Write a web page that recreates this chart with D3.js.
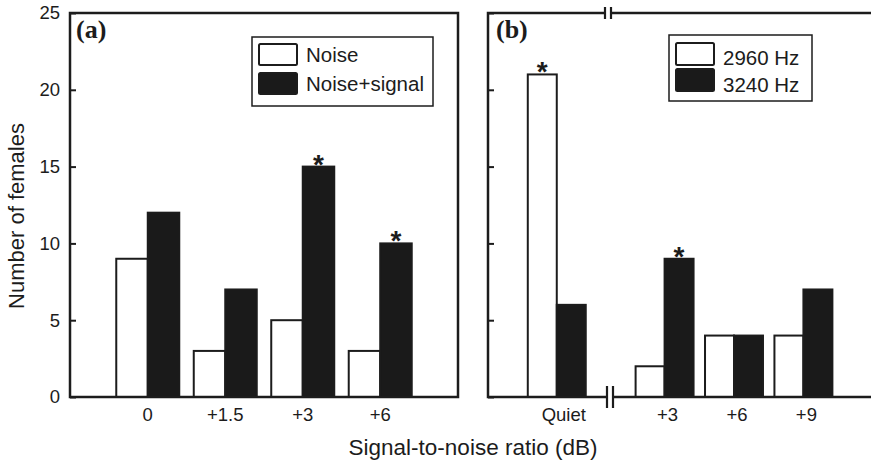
<!DOCTYPE html>
<html>
<head>
<meta charset="utf-8">
<script src="https://cdn.jsdelivr.net/npm/d3@7"></script>
<style>
  html, body { margin: 0; padding: 0; background: #fff; }
  svg { display: block; font-family: Arial, "Liberation Sans", Helvetica, sans-serif; }
</style>
</head>
<body>
<svg id="chart" width="871" height="465"></svg>
<script>
// Panel (a): responses to noise alone vs noise plus signal
const catsA = ["0", "+1.5", "+3", "+6"];
const noiseA = [9, 3, 5, 3];
const noiseSignalA = [12, 7, 15, 10];
const starsA = [null, null, "second", "second"];
const legendA = ["Noise", "Noise+signal"];

// Panel (b): responses to two tone frequencies
const catsB = ["Quiet", "+3", "+6", "+9"];
const hz2960 = [21, 2, 4, 4];
const hz3240 = [6, 9, 4, 7];
const starsB = ["first", "second", null, null];
const legendB = ["2960 Hz", "3240 Hz"];

const yTicks = [0, 5, 10, 15, 20, 25];

const INK = "#1c1c1c";
const svg = d3.select("#chart");

const y = d3.scaleLinear().domain([0, 25]).range([397, 13]);

function drawBars(g, cats, xs, sub, first, second) {
  cats.forEach((c, i) => {
    [[first[i], "#fff"], [second[i], "#1a1a1a"]].forEach(([v, fill], k) => {
      g.append("rect")
        .attr("x", xs(c) + sub(k))
        .attr("y", y(v))
        .attr("width", sub.bandwidth())
        .attr("height", y(0) - y(v))
        .attr("fill", fill)
        .attr("stroke", INK)
        .attr("stroke-width", 2);
    });
  });
}

// significance marks above the starred bar of a group
function drawStars(g, cats, xs, sub, first, second, stars) {
  cats.forEach((c, i) => {
    if (!stars[i]) return;
    const k = (stars[i] === "first") ? 0 : 1;
    const v = (stars[i] === "first") ? first[i] : second[i];
    g.append("text")
      .attr("x", xs(c) + sub(k) + sub.bandwidth() / 2)
      .attr("y", y(v) + 7)
      .attr("text-anchor", "middle")
      .attr("font-size", 28)
      .attr("font-weight", "bold")
      .attr("fill", INK)
      .text("*");
  });
}

function drawLegend(g, x0, y0, w, h, labels, swY, swH, txtY) {
  g.append("rect").attr("x", x0).attr("y", y0).attr("width", w).attr("height", h)
    .attr("fill", "#fff").attr("stroke", INK).attr("stroke-width", 1.5);
  labels.forEach((lab, k) => {
    g.append("rect").attr("x", x0 + 7).attr("y", swY[k]).attr("width", 38).attr("height", swH)
      .attr("fill", k === 0 ? "#fff" : "#1a1a1a").attr("stroke", INK).attr("stroke-width", 2).attr("rx", 1.5);
    g.append("text").attr("x", x0 + 54).attr("y", txtY[k])
      .attr("font-size", 20.5).attr("fill", INK).text(lab);
  });
}

function panelLabel(g, x, txt) {
  g.append("text").attr("x", x).attr("y", 38)
    .attr("font-family", "'Liberation Serif', 'Times New Roman', serif")
    .attr("font-weight", "bold").attr("font-size", 26).attr("fill", INK)
    .text(txt);
}

// ---------- Panel (a) ----------
const aLeft = 70, aRight = 458;
const xA = d3.scaleBand().domain(catsA).range([aLeft, aRight])
  .paddingInner(0.187).paddingOuter(0.597);
const subA = d3.scaleBand().domain([0, 1]).range([0, xA.bandwidth()]);

const gA = svg.append("g");
drawBars(gA, catsA, xA, subA, noiseA, noiseSignalA);
drawStars(gA, catsA, xA, subA, noiseA, noiseSignalA, starsA);

// y axis: inward ticks, labels outside
const yAxisA = d3.axisLeft(y).tickValues(yTicks).tickSizeInner(-6).tickSizeOuter(0).tickPadding(10);
const yA = gA.append("g").attr("transform", `translate(${aLeft},0)`).call(yAxisA);
yA.select(".domain").remove();
yA.selectAll(".tick line").attr("stroke", INK).attr("stroke-width", 2);
yA.selectAll(".tick text").attr("font-size", 18.5).attr("fill", INK);

// x category labels
const xAxisA = d3.axisBottom(xA).tickSize(0).tickPadding(11);
const xAg = gA.append("g").attr("transform", `translate(0,${y(0)})`).call(xAxisA);
xAg.select(".domain").remove();
xAg.selectAll(".tick text").attr("font-size", 18.5).attr("fill", INK);

// closed frame
gA.append("rect")
  .attr("x", aLeft).attr("y", y(25))
  .attr("width", aRight - aLeft).attr("height", y(0) - y(25))
  .attr("fill", "none").attr("stroke", INK).attr("stroke-width", 2.5);

panelLabel(gA, 76, "(a)");
drawLegend(gA, 252, 37, 181, 69, legendA, [44, 73], 21, [62, 91]);

// ---------- Panel (b) ----------
const bLeft = 488, bRight = 871, breakX = 609;
const xBq = d3.scaleBand().domain(catsB.slice(0, 1)).range([504, 610])
  .paddingInner(0.165).paddingOuter(0.34);
const xBr = d3.scaleBand().domain(catsB.slice(1)).range([612, 856])
  .paddingInner(0.165).paddingOuter(0.34);
const xB = c => (c === catsB[0] ? xBq(c) : xBr(c));
const subB = d3.scaleBand().domain([0, 1]).range([0, xBr.bandwidth()]);

const gB = svg.append("g");
drawBars(gB, catsB, xB, subB, hz2960, hz3240);
drawStars(gB, catsB, xB, subB, hz2960, hz3240, starsB);

const yAxisB = d3.axisLeft(y).tickValues(yTicks).tickSizeInner(-6).tickSizeOuter(0).tickFormat("");
const yB = gB.append("g").attr("transform", `translate(${bLeft},0)`).call(yAxisB);
yB.select(".domain").remove();
yB.selectAll(".tick line").attr("stroke", INK).attr("stroke-width", 2);

// category labels
catsB.forEach((c, i) => {
  gB.append("text")
    .attr("x", xB(c) + subB.bandwidth() + (i === 0 ? 7 : 3))
    .attr("y", y(0) + 24)
    .attr("text-anchor", "middle")
    .attr("font-size", 18.5).attr("fill", INK)
    .text(c);
});

// open frame: left, top and bottom lines
gB.append("path")
  .attr("d", `M${bRight},${y(25)}H${bLeft}V${y(0)}H${bRight}`)
  .attr("fill", "none").attr("stroke", INK).attr("stroke-width", 2.5);

// axis breaks on top and bottom lines
function axisBreak(cx, cy, half) {
  gB.append("rect").attr("x", cx - 3).attr("y", cy - 3).attr("width", 6).attr("height", 6).attr("fill", "#fff");
  [-3, 3].forEach(dx => {
    gB.append("line").attr("x1", cx + dx).attr("x2", cx + dx)
      .attr("y1", cy - half).attr("y2", cy + half)
      .attr("stroke", INK).attr("stroke-width", 2.2);
  });
}
axisBreak(breakX - 1, y(25), 6);
axisBreak(breakX + 1, y(0), 11);

panelLabel(gB, 496, "(b)");
drawLegend(gB, 669, 35, 143, 66, legendB, [43, 69], 22, [65, 92]);

// ---------- shared titles ----------
svg.append("text")
  .attr("transform", "translate(24,216) rotate(-90)")
  .attr("text-anchor", "middle")
  .attr("font-size", 22).attr("fill", INK)
  .text("Number of females");

svg.append("text")
  .attr("x", 473).attr("y", 455)
  .attr("text-anchor", "middle")
  .attr("font-size", 22.5).attr("fill", INK)
  .text("Signal-to-noise ratio (dB)");
</script>
</body>
</html>
